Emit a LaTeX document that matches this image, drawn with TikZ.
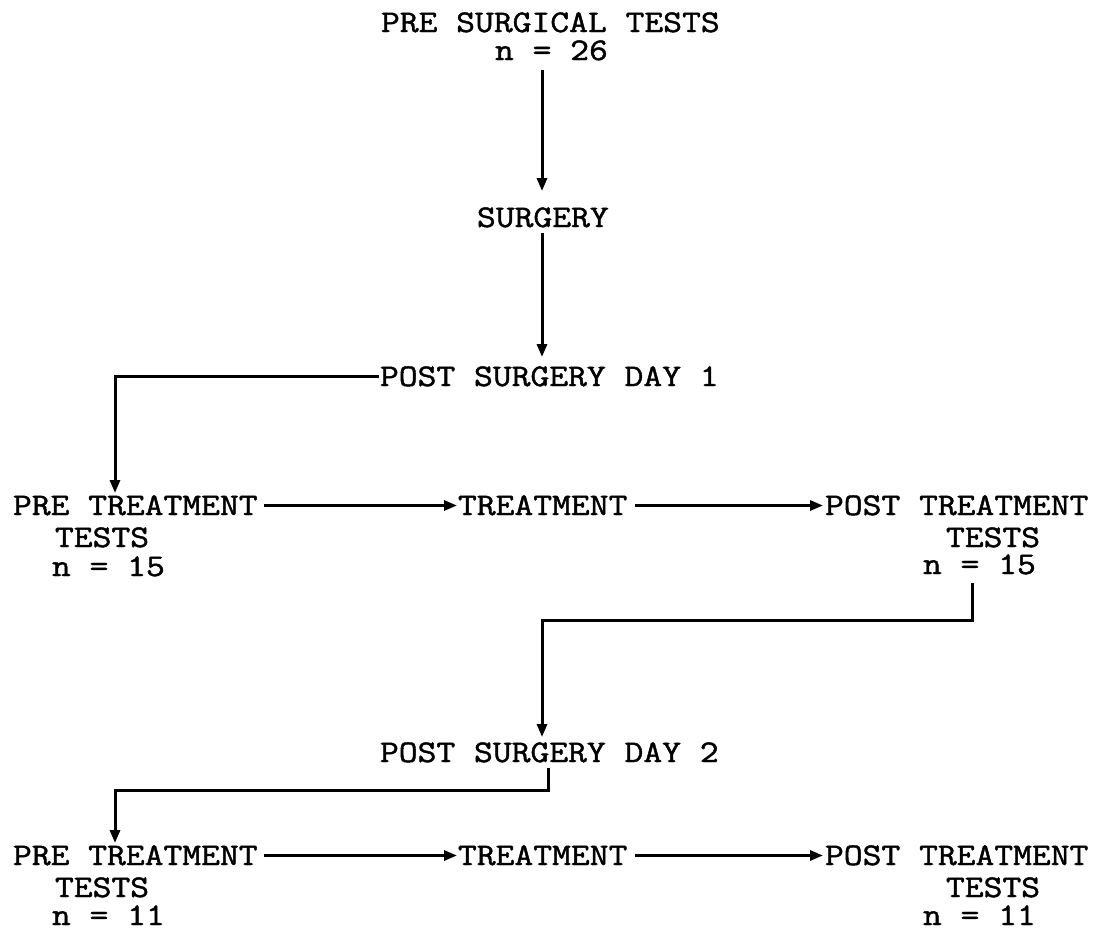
\documentclass[tikz,border=0pt]{standalone}
\usepackage{fontspec}
\newfontfamily\tw[FakeStretch=1.16,FakeBold=1.4]{Latin Modern Mono}
\usetikzlibrary{arrows.meta}
\begin{document}
\begin{tikzpicture}[x=1pt,y=-1pt,
  txt/.style={anchor=base west,inner sep=0pt,outer sep=0pt,text height=19pt,text depth=0pt,
    font=\tw\fontsize{31.5}{36}\selectfont},
  conn/.style={line width=3pt},
  arr/.style={conn,-{Triangle[length=13pt,width=10pt]}}]
\useasboundingbox[fill=white] (0,0) rectangle (1096,932);
% helper coordinates for connector columns and bends
\coordinate (x542) at (542,0);
\coordinate (x548) at (548,0);
\coordinate (x115) at (115,0);
\coordinate (x972) at (972,0);
\coordinate (b1) at (972,620);
\coordinate (b2) at (548,790);
% texts
\node[txt] (pst) at (381,32) {PRE SURGICAL TESTS};
\node[txt] (n26) at (495,60) {n = 26};
\node[txt] (surg) at (477,227) {SURGERY};
\node[txt] (psd1) at (380,386) {POST SURGERY DAY 1};
\node[txt] (pre1) at (13,515) {PRE TREATMENT};
\node[txt] (pre1t) at (55,547) {TESTS};
\node[txt] (pre1n) at (52,576) {n = 15};
\node[txt] (tr1) at (458,515) {TREATMENT};
\node[txt] (post1) at (825,515) {POST TREATMENT};
\node[txt] (post1t) at (946,547) {TESTS};
\node[txt] (post1n) at (923,574) {n = 15};
\node[txt] (psd2) at (380,762) {POST SURGERY DAY 2};
\node[txt] (pre2) at (13,865) {PRE TREATMENT};
\node[txt] (pre2t) at (55,897) {TESTS};
\node[txt] (pre2n) at (52,925) {n = 11};
\node[txt] (tr2) at (458,865) {TREATMENT};
\node[txt] (post2) at (825,865) {POST TREATMENT};
\node[txt] (post2t) at (946,897) {TESTS};
\node[txt] (post2n) at (923,925) {n = 11};
% connectors
\draw[arr,shorten <=10pt,shorten >=17pt] (x542 |- n26.south) -- (x542 |- surg.north);
\draw[arr,shorten <=6pt,shorten >=10pt] (x542 |- surg.south) -- (x542 |- psd1.north);
\draw[arr,shorten <=1pt,shorten >=3pt] (psd1.west) -| (x115 |- pre1.north);
\draw[arr,shorten <=6pt,shorten >=1pt] (pre1.east) -- (tr1.west);
\draw[arr,shorten <=8pt,shorten >=2pt] (tr1.east) -- (post1.west);
\draw[arr,shorten <=9pt,shorten >=6pt] (x972 |- post1n.south) -- (b1) -| (x542 |- psd2.north);
\draw[arr,shorten <=6pt,shorten >=3pt] (x548 |- psd2.south) -- (b2) -| (x115 |- pre2.north);
\draw[arr,shorten <=6pt,shorten >=1pt] (pre2.east) -- (tr2.west);
\draw[arr,shorten <=8pt,shorten >=2pt] (tr2.east) -- (post2.west);
\end{tikzpicture}
\end{document}
